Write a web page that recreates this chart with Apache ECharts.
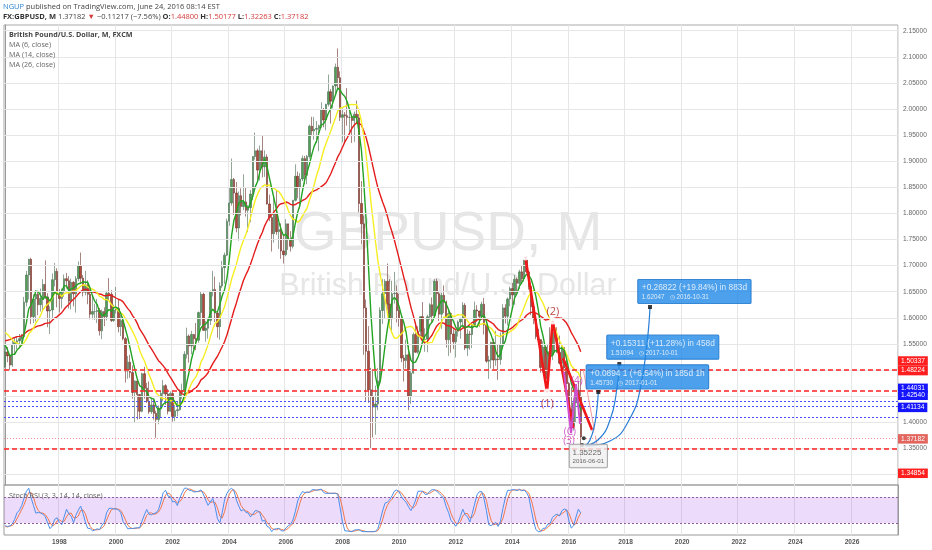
<!DOCTYPE html>
<html><head><meta charset="utf-8">
<script src="https://cdn.jsdelivr.net/npm/echarts@6/dist/echarts.min.js"></script>
<style>html,body{margin:0;padding:0;background:#fff}#c{width:932px;height:550px}</style>
</head><body><div id="c"></div>
<script>
// ---------- DATA ----------
const startYear = 1996, startMonth = 2, monthCount = 379; // Feb 1996 .. Aug 2027 (axis span)
// closes before the first visible candle (Jan 1993 .. Jan 1996), used only for indicator warm-up
const warmupCloses = [
 1.4370,1.4330,1.5090,1.5600,1.5440,1.4940,1.4920,1.4930,1.5320,1.4830,1.4900,1.4780,
 1.5020,1.4800,1.4830,1.5120,1.5120,1.5450,1.5420,1.5370,1.5780,1.6320,1.5630,1.5640,
 1.5830,1.5780,1.6180,1.6120,1.5870,1.5950,1.5980,1.5490,1.5820,1.5810,1.5290,1.5530,
 1.5065];
const opens = [
 1.5065,1.5345,1.5270,1.5095,1.5490,1.5530,1.5560,1.5600,1.5640,1.6300,1.6820,
 1.7120,1.6020,1.6360,1.6450,1.6250,1.6370,1.6640,1.6400,1.6130,1.6150,1.6730,1.6890,
 1.6450,1.6370,1.6500,1.6750,1.6710,1.6320,1.6680,1.6460,1.6750,1.7000,1.6760,1.6490,
 1.6630,1.6450,1.6070,1.6120,1.6120,1.6140,1.5750,1.6120,1.6020,1.6470,1.6450,1.5950,
 1.6150,1.6180,1.5830,1.5950,1.5600,1.4980,1.5150,1.4950,1.4570,1.4790,1.4530,1.4210,
 1.4930,1.4650,1.4400,1.4200,1.4330,1.4170,1.4050,1.4270,1.4550,1.4700,1.4540,1.4210,
 1.4550,1.4110,1.4220,1.4240,1.4570,1.4610,1.5300,1.5650,1.5460,1.5680,1.5600,1.5570,
 1.6100,1.6450,1.5760,1.5800,1.5950,1.6500,1.6540,1.6090,1.5830,1.6610,1.6960,1.7200,
 1.7850,1.8200,1.8650,1.8390,1.7720,1.8340,1.8130,1.8220,1.8060,1.8110,1.8370,1.9090,
 1.9200,1.8830,1.9200,1.8890,1.9080,1.8180,1.7920,1.7610,1.8000,1.7650,1.7690,1.7280,
 1.7210,1.7800,1.7500,1.7370,1.8250,1.8710,1.8490,1.8660,1.9050,1.8730,1.9090,1.9670,
 1.9580,1.9610,1.9630,1.9680,1.9990,1.9790,2.0090,2.0330,2.0150,2.0440,2.0800,2.0600,
 1.9840,1.9890,1.9870,1.9840,1.9840,1.9780,1.9900,1.9830,1.8190,1.7800,1.6190,1.5360,
 1.4620,1.4490,1.4290,1.4350,1.4790,1.6140,1.6460,1.6700,1.6260,1.5980,1.6460,1.6470,
 1.6140,1.5980,1.5230,1.5180,1.5290,1.4500,1.4940,1.5680,1.5340,1.5740,1.6020,1.5580,
 1.5590,1.6020,1.6250,1.6040,1.6700,1.6460,1.6070,1.6430,1.6300,1.5580,1.6080,1.5690,
 1.5540,1.5740,1.5920,1.5990,1.6240,1.5420,1.5690,1.5680,1.5860,1.6150,1.6130,1.6030,
 1.6260,1.5860,1.5170,1.5190,1.5530,1.5190,1.5210,1.5200,1.5490,1.6190,1.6030,1.6360,
 1.6560,1.6440,1.6740,1.6660,1.6880,1.6750,1.7110,1.6880,1.6600,1.6210,1.5990,1.5640,
 1.5580,1.5050,1.5440,1.4830,1.5350,1.5290,1.5720,1.5620,1.5340,1.5130,1.5430,1.5040,
 1.4740,1.4240,1.3920,1.4370,1.4610,1.44800];
const highs = [
 1.5480,1.5440,1.5300,1.5560,1.5620,1.5640,1.5690,1.5690,1.6400,1.6900,1.7130,
 1.7150,1.6450,1.6530,1.6500,1.6560,1.6740,1.7100,1.6470,1.6220,1.6850,1.7050,1.6950,
 1.6550,1.6560,1.6830,1.6860,1.6800,1.6750,1.6700,1.6800,1.7080,1.7250,1.6820,1.6900,
 1.6720,1.6550,1.6440,1.6270,1.6360,1.6190,1.6160,1.6200,1.6520,1.6760,1.6530,1.6250,
 1.6590,1.6340,1.6060,1.6020,1.5630,1.5270,1.5290,1.5090,1.4800,1.4830,1.4540,1.4950,
 1.5060,1.4750,1.4780,1.4470,1.4440,1.4220,1.4320,1.4600,1.4810,1.4730,1.4640,1.4590,
 1.4590,1.4330,1.4400,1.4630,1.4740,1.5360,1.5810,1.5680,1.5750,1.5690,1.5900,1.6120,
 1.6510,1.6480,1.5940,1.6000,1.6520,1.6900,1.6790,1.6130,1.6680,1.7090,1.7250,1.7900,
 1.8490,1.9050,1.8680,1.8600,1.8420,1.8480,1.8750,1.8490,1.8160,1.8450,1.9100,1.9550,
 1.9240,1.9300,1.9480,1.9210,1.9130,1.8360,1.7950,1.8300,1.8450,1.7810,1.7810,1.7570,
 1.7890,1.7800,1.7660,1.8260,1.8940,1.8800,1.8770,1.9110,1.9100,1.9120,1.9700,1.9850,
 1.9850,1.9770,1.9700,2.0130,2.0020,2.0100,2.0660,2.0380,2.0450,2.0870,2.1160,2.0720,
 2.0010,1.9940,2.0400,2.0000,1.9850,1.9950,2.0160,1.9900,1.8620,1.7960,1.6350,1.5840,
 1.5040,1.4980,1.4700,1.5040,1.6200,1.6740,1.6740,1.7040,1.6740,1.6710,1.6880,1.6620,
 1.6460,1.6030,1.5290,1.5580,1.5460,1.5020,1.5720,1.5910,1.5840,1.6030,1.6300,1.5800,
 1.6060,1.6280,1.6390,1.6740,1.6750,1.6500,1.6480,1.6620,1.6330,1.6160,1.6100,1.5780,
 1.5770,1.5950,1.6000,1.6300,1.6280,1.5780,1.5750,1.5890,1.6310,1.6240,1.6130,1.6310,
 1.6380,1.5890,1.5270,1.5540,1.5600,1.5750,1.5490,1.5720,1.6260,1.6260,1.6390,1.6600,
 1.6670,1.6820,1.6770,1.6920,1.7000,1.7120,1.7190,1.6900,1.6640,1.6250,1.6050,1.5790,
 1.5590,1.5550,1.5450,1.5500,1.5820,1.5930,1.5730,1.5820,1.5660,1.5510,1.5440,1.5240,
 1.4770,1.4670,1.4460,1.4640,1.4770,1.50177];
const lows = [
 1.5040,1.5150,1.4990,1.5060,1.5300,1.5400,1.5420,1.5520,1.5610,1.6220,1.6350,
 1.5880,1.5900,1.5930,1.6050,1.6120,1.6110,1.6360,1.5820,1.5690,1.6000,1.6600,1.6200,
 1.6100,1.6180,1.6400,1.6560,1.6180,1.6160,1.6220,1.6100,1.6700,1.6660,1.6410,1.6430,
 1.6260,1.5970,1.5970,1.5960,1.5900,1.5660,1.5590,1.5840,1.5950,1.6320,1.5920,1.5920,
 1.6080,1.5720,1.5650,1.5570,1.4760,1.4830,1.4850,1.4450,1.4000,1.4050,1.4060,1.4190,
 1.4450,1.4370,1.4160,1.4160,1.4050,1.3700,1.3960,1.4090,1.4400,1.4330,1.4150,1.4200,
 1.4010,1.4020,1.4110,1.4220,1.4440,1.4560,1.5220,1.5140,1.5300,1.5390,1.5380,1.5520,
 1.5850,1.5750,1.5540,1.5600,1.5860,1.6410,1.5920,1.5620,1.5580,1.6570,1.6650,1.7180,
 1.7760,1.8150,1.7970,1.7640,1.7480,1.7960,1.8060,1.7940,1.7640,1.7830,1.8250,1.9030,
 1.8630,1.8630,1.8690,1.8700,1.8170,1.7850,1.7270,1.7440,1.7590,1.7320,1.7130,1.7040,
 1.7180,1.7300,1.7270,1.7330,1.8230,1.8290,1.8090,1.8620,1.8560,1.8560,1.9050,1.9480,
 1.9410,1.9350,1.9190,1.9640,1.9650,1.9590,2.0050,1.9720,2.0010,2.0290,2.0360,1.9770,
 1.9360,1.9360,1.9680,1.9560,1.9350,1.9370,1.9710,1.8020,1.7410,1.5290,1.4400,1.4370,
 1.3500,1.3710,1.3760,1.4230,1.4730,1.5880,1.5990,1.6140,1.5800,1.5710,1.6270,1.5910,
 1.5830,1.5150,1.4780,1.5030,1.4230,1.4350,1.4930,1.5330,1.5310,1.5650,1.5530,1.5350,
 1.5340,1.5960,1.5900,1.6020,1.6170,1.5940,1.5790,1.6090,1.5430,1.5270,1.5330,1.5400,
 1.5240,1.5640,1.5600,1.5820,1.5380,1.5270,1.5390,1.5420,1.5850,1.5920,1.5830,1.5960,
 1.5680,1.5140,1.4830,1.5030,1.5020,1.5080,1.4810,1.5100,1.5420,1.5890,1.5850,1.6220,
 1.6250,1.6250,1.6460,1.6550,1.6690,1.6690,1.6860,1.6540,1.6050,1.5880,1.5590,1.5480,
 1.4950,1.4950,1.4630,1.4570,1.5170,1.5190,1.5330,1.5330,1.5110,1.5110,1.4980,1.4730,
 1.4080,1.3840,1.3840,1.4000,1.4330,1.32263];
const closes = [
 1.5345,1.5270,1.5095,1.5490,1.5530,1.5560,1.5600,1.5640,1.6300,1.6820,1.7120,
 1.6020,1.6360,1.6450,1.6250,1.6370,1.6640,1.6400,1.6130,1.6150,1.6730,1.6890,1.6450,
 1.6370,1.6500,1.6750,1.6710,1.6320,1.6680,1.6460,1.6750,1.7000,1.6760,1.6490,1.6630,
 1.6450,1.6070,1.6120,1.6120,1.6140,1.5750,1.6120,1.6020,1.6470,1.6450,1.5950,1.6150,
 1.6180,1.5830,1.5950,1.5600,1.4980,1.5150,1.4950,1.4570,1.4790,1.4530,1.4210,1.4930,
 1.4650,1.4400,1.4200,1.4330,1.4170,1.4050,1.4270,1.4550,1.4700,1.4540,1.4210,1.4550,
 1.4110,1.4220,1.4240,1.4570,1.4610,1.5300,1.5650,1.5460,1.5680,1.5600,1.5570,1.6100,
 1.6450,1.5760,1.5800,1.5950,1.6500,1.6540,1.6090,1.5830,1.6610,1.6960,1.7200,1.7850,
 1.8200,1.8650,1.8390,1.7720,1.8340,1.8130,1.8220,1.8060,1.8110,1.8370,1.9090,1.9200,
 1.8830,1.9200,1.8890,1.9080,1.8180,1.7920,1.7610,1.8000,1.7650,1.7690,1.7280,1.7210,
 1.7800,1.7500,1.7370,1.8250,1.8710,1.8490,1.8660,1.9050,1.8730,1.9090,1.9670,1.9580,
 1.9610,1.9630,1.9680,1.9990,1.9790,2.0090,2.0330,2.0150,2.0440,2.0800,2.0600,1.9840,
 1.9890,1.9870,1.9840,1.9840,1.9780,1.9900,1.9830,1.8190,1.7800,1.6190,1.5360,1.4620,
 1.4490,1.4290,1.4350,1.4790,1.6140,1.6460,1.6700,1.6260,1.5980,1.6460,1.6470,1.6140,
 1.5980,1.5230,1.5180,1.5290,1.4500,1.4940,1.5680,1.5340,1.5740,1.6020,1.5580,1.5590,
 1.6020,1.6250,1.6040,1.6700,1.6460,1.6070,1.6430,1.6300,1.5580,1.6080,1.5690,1.5540,
 1.5740,1.5920,1.5990,1.6240,1.5420,1.5690,1.5680,1.5860,1.6150,1.6130,1.6030,1.6260,
 1.5860,1.5170,1.5190,1.5530,1.5190,1.5210,1.5200,1.5490,1.6190,1.6030,1.6360,1.6560,
 1.6440,1.6740,1.6660,1.6880,1.6750,1.7110,1.6880,1.6600,1.6210,1.5990,1.5640,1.5580,
 1.5050,1.5440,1.4830,1.5350,1.5290,1.5720,1.5620,1.5340,1.5130,1.5430,1.5040,1.4740,
 1.4240,1.3920,1.4370,1.4610,1.4480,1.37182];
const priceTicks = [1.30,1.35,1.40,1.45,1.50,1.55,1.60,1.65,1.70,1.75,1.80,1.85,1.90,1.95,2.00,2.05,2.10,2.15];
const stochTicks = [0,40,80];
const stochBand = [20,80];
// horizontal levels drawn on the chart and the text of their price-scale tags
const levelPrices = [1.50337,1.4636,1.44031,1.42540,1.41134,1.37182,1.3500];
const levelTags   = ['1.50337','1.48224','1.44031','1.42540','1.41134','1.37182','1.34854'];
// drawings (x = month index from Feb 1996, y = price)
const waveMain   = [[220.5,1.7165],[229.7,1.4578],[232.1,1.5939],[240.85,1.3889]];
const waveSecond = [[236.5,1.523],[249.3,1.3793]];
const waveCircles = [[220.5,1.7165],[229.7,1.4578],[232.1,1.5939],[249.3,1.3793]];
const waveMinor  = [[236.9,1.4963],[239.9,1.379],[242.0,1.4732],[243.7,1.3966]];
const thinTarget = [[245.1,1.50],[250.8,1.3596]];
const waveTexts  = [[229.9,1.4349,'(1)'],[232.2,1.6117,'(2)']];
const minorTexts = [[242.4,1.479,'(4)'],[239.4,1.3811,'(C)'],[239.0,1.3638,'(3)']];
const arc1 = [[245.81,1.3544],[247.93,1.3659],[249.84,1.3946],[250.90,1.4272],[251.45,1.4579]];
const arc2 = [[246.24,1.3544],[252.17,1.3697],[256.41,1.4042],[258.95,1.4521],[260.35,1.5115]];
const arc3 = [[246.66,1.3544],[256.41,1.3640],[264.04,1.4004],[269.55,1.4713],[273.37,1.6207]];
const anchorDots = [[245.3,1.3692],[244.6,1.3563]];
const projTexts = [
  ['+0.0894 1 (+6.54%) in 185d 1h','1.45730','2017-01-01'],
  ['+0.15311 (+11.28%) in 458d','1.51094','2017-10-01'],
  ['+0.26822 (+19.84%) in 883d','1.62047','2016-10-31']];
const priceTag = [239.45,1.3563,'1.35225','2016-06-01'];

// ---------- BUILD ----------
const months = [];
for (let i = 0; i < monthCount; i++) {
  const m = startMonth - 1 + i, y = startYear + Math.floor(m / 12), mm = m % 12 + 1;
  months.push(y + '-' + (mm < 10 ? '0' : '') + mm);
}
const isLabel = (i, v) => v.slice(5) === '01' && (+v.slice(0, 4)) % 2 === 0;
const candles = closes.map((c, i) => [opens[i], c, lows[i], highs[i]]);
const allCloses = warmupCloses.concat(closes);
const W = warmupCloses.length;
function sma(a, n) { return a.map((v, i) => { if (i < n - 1) return null; let s = 0; for (let j = i - n + 1; j <= i; j++) { if (a[j] == null) return null; s += a[j]; } return s / n; }); }
function rsi(a, n) {
  const out = a.map(() => null); let up = 0, dn = 0;
  for (let i = 1; i < a.length; i++) {
    const ch = a[i] - a[i - 1], u = Math.max(ch, 0), d = Math.max(-ch, 0);
    if (i <= n) { up += u / n; dn += d / n; if (i < n) continue; }
    else { up = (up * (n - 1) + u) / n; dn = (dn * (n - 1) + d) / n; }
    out[i] = dn === 0 ? 100 : 100 - 100 / (1 + up / dn);
  }
  return out;
}
function stoch(a, n) { return a.map((v, i) => { if (v == null || i < n - 1) return null; let lo = Infinity, hi = -Infinity; for (let j = i - n + 1; j <= i; j++) { if (a[j] == null) return null; lo = Math.min(lo, a[j]); hi = Math.max(hi, a[j]); } return hi === lo ? 0 : (v - lo) / (hi - lo) * 100; }); }
const ma6 = sma(allCloses, 6).slice(W), ma14 = sma(allCloses, 14).slice(W), ma26 = sma(allCloses, 26).slice(W);
const kAll = sma(stoch(rsi(allCloses, 14), 14), 3), dAll = sma(kAll, 3);
const kLine = kAll.slice(W), dLine = dAll.slice(W);

const FONT = '"Liberation Sans", Arial, sans-serif';
const HFONT = '"Open Sans", "Liberation Sans", sans-serif';
const yMin = 1.2797, yMax = 2.1609;

const levelStyles = [
  {c:'#ff1f1f', w:1.5, t:[5,3], bg:'#ff1f1f', off:-9},
  {c:'#ff1f1f', w:1.5, t:[5,3], bg:'#ff1f1f', off:-20.3},
  {c:'#4b4bff', w:1, t:[2,2], bg:'#1414ff', off:-13},
  {c:'#4b4bff', w:1, t:[2,2], bg:'#1414ff', off:-11.3},
  {c:'#4b4bff', w:1, t:[2,2], bg:'#1414ff', off:-9.6},
  {c:'#f09090', w:1, t:[1,2], bg:'#e2665e', off:1},
  {c:'#ff1f1f', w:1.5, t:[5,3], bg:'#ff1f1f', off:25}];
const boxOffsets = [[-11.6, -26.7], [-12, -28.3], [-11.7, -27]];

const chart = echarts.init(document.getElementById('c'));
const mainAx = {xAxisIndex: 1, yAxisIndex: 0};
const dotStyle = {color: '#111'};
const arcEnds = [arc1[arc1.length - 1], arc2[arc2.length - 1], arc3[arc3.length - 1]];
chart.setOption({
  animation: false,
  backgroundColor: '#fff',
  grid: [
    {left: 4, right: 34, top: 25, bottom: 65, show: true, borderColor: '#aaa', borderWidth: 1},
    {left: 4, right: 34, top: 485, bottom: 15, show: true, borderColor: '#999', borderWidth: 1}
  ],
  xAxis: [
    {type: 'category', gridIndex: 0, data: months, boundaryGap: true,
     axisLine: {show: false}, axisTick: {show: false}, axisLabel: {show: false},
     splitLine: {show: true, interval: isLabel, lineStyle: {color: '#e6e6e6', width: 1}}},
    {type: 'value', gridIndex: 0, min: -0.5, max: monthCount - 0.5, show: false},
    {type: 'category', gridIndex: 1, data: months, boundaryGap: true,
     axisLine: {show: false}, axisTick: {show: false},
     axisLabel: {interval: isLabel, formatter: v => v.slice(0, 4), fontSize: 6.6, fontWeight: 'bold', color: '#555', fontFamily: FONT, margin: 4},
     splitLine: {show: true, interval: isLabel, lineStyle: {color: '#e6e6e6', width: 1}}}
  ],
  yAxis: [
    {type: 'value', gridIndex: 0, position: 'right', min: yMin, max: yMax, scale: true,
     axisLine: {show: true, lineStyle: {color: '#999'}}, axisTick: {show: false}, axisLabel: {show: false}, splitLine: {show: false}},
    {type: 'value', gridIndex: 1, position: 'right', min: -7.7, max: 107.4,
     axisLine: {show: true, lineStyle: {color: '#999'}}, axisTick: {show: false}, axisLabel: {show: false}, splitLine: {show: false}}
  ],
  graphic: [
    {type: 'text', z: 1, x: 448, y: 235, silent: true,
     style: {text: 'GBPUSD, M', font: '55px ' + FONT, fill: '#e6e6e6', textAlign: 'center', textVerticalAlign: 'middle', align: 'center', verticalAlign: 'middle'}},
    {type: 'text', z: 1, x: 448, y: 287, silent: true,
     style: {text: 'British Pound/U.S. Dollar', font: '30.5px ' + FONT, fill: '#e6e6e6', textAlign: 'center', textVerticalAlign: 'middle', align: 'center', verticalAlign: 'middle'}},
    {type: 'text', z: 20, x: 3, y: 7, silent: true,
     style: {text: '{a|NGUP} published on TradingView.com, June 24, 2016 08:14 EST', font: '7.5px ' + HFONT, fill: '#444', textVerticalAlign: 'middle', verticalAlign: 'middle',
       rich: {a: {fill: '#2b86d6', font: '7.5px ' + HFONT}}}},
    {type: 'text', z: 20, x: 3, y: 17, silent: true,
     style: {text: '{b|FX:GBPUSD, M} 1.37182 {r|▼} −0.11217 (−7.56%) {b|O:}{r|1.44800} {b|H:}{r|1.50177} {b|L:}{r|1.32263} {b|C:}{r|1.37182}',
       font: '7.5px ' + HFONT, fill: '#444', textVerticalAlign: 'middle', verticalAlign: 'middle',
       rich: {b: {font: 'bold 7.5px ' + HFONT, fill: '#333'}, r: {font: '7.5px ' + HFONT, fill: '#d33a3a'}}}},
    {type: 'text', z: 20, x: 9, y: 34.5, silent: true,
     style: {text: 'British Pound/U.S. Dollar, M, FXCM', font: 'bold 7.2px ' + HFONT, fill: '#444', textVerticalAlign: 'middle', verticalAlign: 'middle'}},
    {type: 'text', z: 20, x: 9, y: 44.5, silent: true,
     style: {text: 'MA (6, close)', font: '7.2px ' + HFONT, fill: '#666', textVerticalAlign: 'middle', verticalAlign: 'middle'}},
    {type: 'text', z: 20, x: 9, y: 54.5, silent: true,
     style: {text: 'MA (14, close)', font: '7.2px ' + HFONT, fill: '#666', textVerticalAlign: 'middle', verticalAlign: 'middle'}},
    {type: 'text', z: 20, x: 9, y: 64.5, silent: true,
     style: {text: 'MA (26, close)', font: '7.2px ' + HFONT, fill: '#666', textVerticalAlign: 'middle', verticalAlign: 'middle'}},
    {type: 'text', z: 20, x: 9, y: 495.5, silent: true,
     style: {text: 'Stoch RSI (3, 3, 14, 14, close)', font: '7.2px ' + HFONT, fill: '#666', textVerticalAlign: 'middle', verticalAlign: 'middle'}}
  ],
  series: [
    // price scale grid lines and labels
    {type: 'line', xAxisIndex: 0, yAxisIndex: 0, data: closes.map(() => null), z: 1, silent: true,
     markLine: {silent: true, symbol: 'none', animation: false,
       lineStyle: {color: '#e6e6e6', width: 1, type: 'solid'},
       label: {position: 'end', distance: 5, color: '#666', fontSize: 6.6, fontFamily: FONT, formatter: p => p.value.toFixed(5)},
       data: priceTicks.map(v => ({yAxis: v}))}},
    {type: 'candlestick', xAxisIndex: 0, yAxisIndex: 0, data: candles, barWidth: 1.9, z: 3,
     itemStyle: {color: '#4fa055', color0: '#b04a3a', borderColor: '#4c6a52', borderColor0: '#6a3028', borderWidth: 0.6}},
    {type: 'line', xAxisIndex: 0, yAxisIndex: 0, data: ma26, showSymbol: false, z: 4, lineStyle: {color: '#e41c1c', width: 1.4}},
    {type: 'line', xAxisIndex: 0, yAxisIndex: 0, data: ma14, showSymbol: false, z: 4, lineStyle: {color: '#f6ee22', width: 1.4}},
    {type: 'line', xAxisIndex: 0, yAxisIndex: 0, data: ma6, showSymbol: false, z: 4, lineStyle: {color: '#22a322', width: 1.4}},
    // horizontal levels with their price tags
    {type: 'line', xAxisIndex: 0, yAxisIndex: 0, data: closes.map(() => null), z: 6, silent: true,
     markLine: {silent: true, symbol: 'none', animation: false,
       data: levelPrices.map((v, i) => ({yAxis: v,
         lineStyle: {color: levelStyles[i].c, width: levelStyles[i].w, type: levelStyles[i].t},
         label: {position: 'end', distance: 0, formatter: levelTags[i], color: '#fff', fontSize: 6.6, fontFamily: FONT,
                 backgroundColor: levelStyles[i].bg, padding: [1.3, 3, 1.2, 3], offset: [0, levelStyles[i].off]}}))}},
    // drawings
    {type: 'line', ...mainAx, data: waveMain, showSymbol: false, z: 7, lineStyle: {color: '#f01818', width: 2.6}},
    {type: 'line', ...mainAx, data: waveSecond, showSymbol: false, z: 7, lineStyle: {color: '#f01818', width: 2.6}},
    {type: 'line', ...mainAx, data: thinTarget, showSymbol: false, z: 7, lineStyle: {color: '#f59a9a', width: 1}},
    {type: 'line', ...mainAx, data: waveMinor, showSymbol: false, z: 7, lineStyle: {color: '#d24fd2', width: 2}},
    {type: 'scatter', ...mainAx, data: waveCircles, symbol: 'emptyCircle', symbolSize: 5, z: 8, itemStyle: {color: '#fff', borderColor: '#e03030', borderWidth: 1.2}},
    {type: 'scatter', ...mainAx, data: waveTexts, symbolSize: 1, z: 8, itemStyle: {color: 'rgba(0,0,0,0)'},
     label: {show: true, position: 'inside', formatter: p => p.data[2], color: '#a81c1c', fontSize: 11, fontFamily: HFONT}},
    {type: 'scatter', ...mainAx, data: minorTexts, symbolSize: 1, z: 8, itemStyle: {color: 'rgba(0,0,0,0)'},
     label: {show: true, position: 'inside', formatter: p => p.data[2], color: '#c234b8', fontSize: 10, fontFamily: HFONT}},
    {type: 'line', ...mainAx, data: arc1, smooth: true, showSymbol: false, z: 9, lineStyle: {color: '#2c7fd6', width: 1.2}},
    {type: 'line', ...mainAx, data: arc2, smooth: true, showSymbol: false, z: 9, lineStyle: {color: '#2c7fd6', width: 1.2}},
    {type: 'line', ...mainAx, data: arc3, smooth: true, showSymbol: false, z: 9, lineStyle: {color: '#2c7fd6', width: 1.2}},
    {type: 'scatter', ...mainAx, data: anchorDots, symbol: 'circle', symbolSize: 4, z: 10, itemStyle: dotStyle},
    {type: 'scatter', ...mainAx, z: 11, symbol: 'rect', symbolSize: 4, itemStyle: dotStyle, data: arcEnds},
    {type: 'scatter', ...mainAx, z: 12, symbolSize: 1, itemStyle: {color: 'rgba(0,0,0,0)'},
     data: arcEnds.map((p, i) => ({value: p, label: {position: boxOffsets[i]}})),
     label: {show: true, backgroundColor: '#2188e6', borderColor: '#1669bd', borderWidth: 0.6, borderRadius: 1, padding: [3, 4, 2, 4],
       formatter: p => '{a|' + projTexts[p.dataIndex][0] + '}\n{b|' + projTexts[p.dataIndex][1] + '   ◷ ' + projTexts[p.dataIndex][2] + '}',
       rich: {a: {color: '#fff', fontSize: 8.3, fontFamily: FONT, lineHeight: 11}, b: {color: '#fff', fontSize: 6.3, fontFamily: FONT, lineHeight: 8}}}},
    {type: 'scatter', ...mainAx, z: 12, symbolSize: 1, itemStyle: {color: 'rgba(0,0,0,0)'},
     data: [[priceTag[0], priceTag[1]]],
     label: {show: true, position: [0, 0], backgroundColor: '#f0f0f0', borderColor: '#777', borderWidth: 0.7, borderRadius: 1, padding: [3, 3, 2, 3],
       formatter: '{a|' + priceTag[2] + '}\n{b|' + priceTag[3] + '}',
       rich: {a: {color: '#444', fontSize: 8, fontFamily: FONT, lineHeight: 10}, b: {color: '#444', fontSize: 6.2, fontFamily: FONT, lineHeight: 8}}}},
    // Stoch RSI pane
    {type: 'line', xAxisIndex: 2, yAxisIndex: 1, data: closes.map(() => null), z: 1, silent: true,
     markArea: {silent: true, itemStyle: {color: 'rgba(150,40,240,0.17)'}, data: [[{yAxis: stochBand[0]}, {yAxis: stochBand[1]}]]},
     markLine: {silent: true, symbol: 'none', animation: false,
       data: stochBand.map(v => ({yAxis: v, lineStyle: {color: '#8d5f9c', width: 1, type: [2, 2]}, label: {show: false}}))
         .concat(stochTicks.map(v => ({yAxis: v, lineStyle: {opacity: 0},
           label: {show: true, position: 'end', distance: 5, color: '#666', fontSize: 6.6, fontFamily: FONT, formatter: v.toFixed(4)}})))}},
    {type: 'line', xAxisIndex: 2, yAxisIndex: 1, data: dLine, showSymbol: false, z: 3, lineStyle: {color: '#f0784a', width: 1}},
    {type: 'line', xAxisIndex: 2, yAxisIndex: 1, data: kLine, showSymbol: false, z: 4, lineStyle: {color: '#4a90ec', width: 1}}
  ]
});
</script>
</body></html>
